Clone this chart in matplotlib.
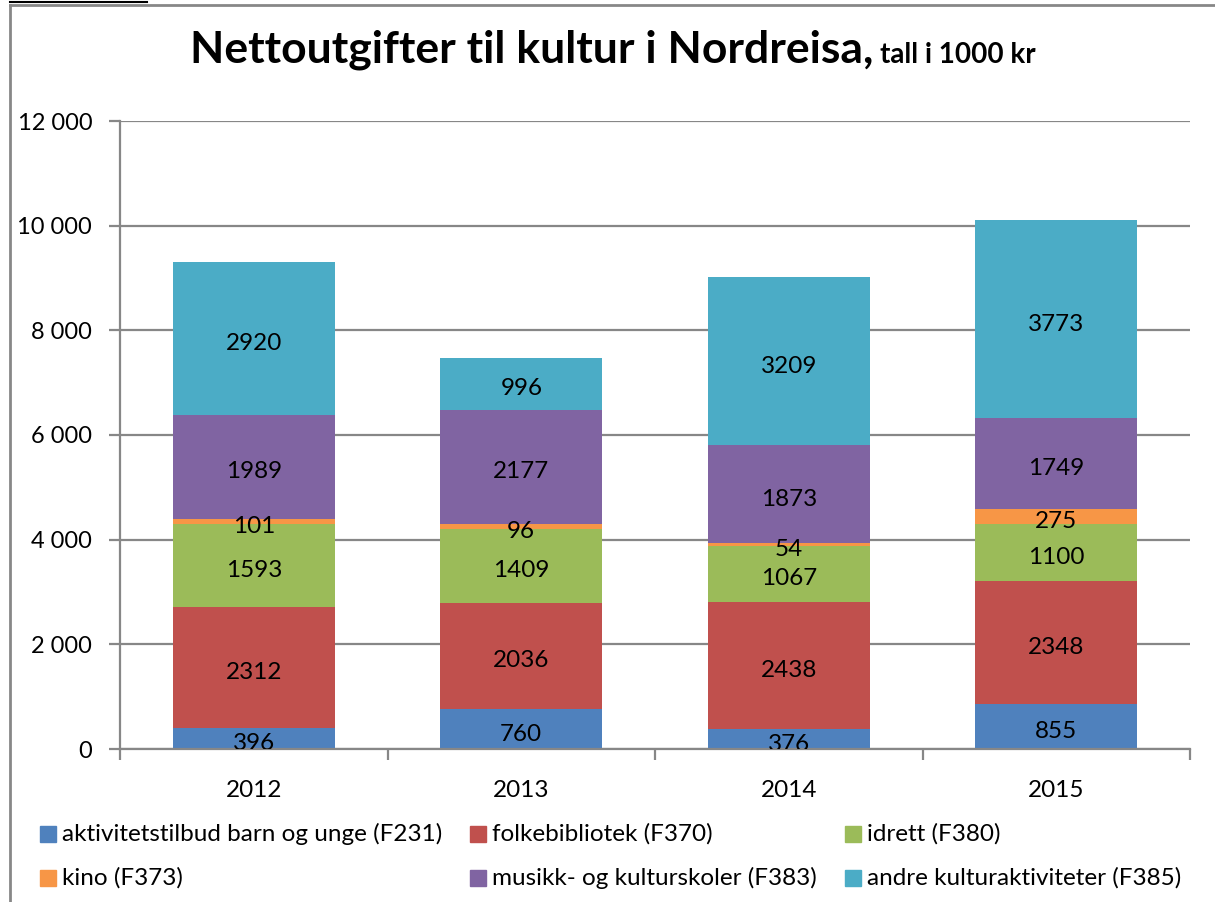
import matplotlib
matplotlib.use('Agg')
import matplotlib.pyplot as plt
import matplotlib.transforms as mtransforms
from matplotlib.lines import Line2D
from matplotlib.ticker import FuncFormatter

years = ['2012', '2013', '2014', '2015']
series_names = [
    'aktivitetstilbud barn og unge (F231)',
    'folkebibliotek (F370)',
    'idrett (F380)',
    'kino (F373)',
    'musikk- og kulturskoler (F383)',
    'andre kulturaktiviteter (F385)',
]
aktivitet = [396, 760, 376, 855]
bibliotek = [2312, 2036, 2438, 2348]
idrett = [1593, 1409, 1067, 1100]
kino = [101, 96, 54, 275]
musikk = [1989, 2177, 1873, 1749]
andre = [2920, 996, 3209, 3773]
colors = ['#4f81bd', '#c0504d', '#9bbb59', '#f79646', '#8064a2', '#4bacc6']

plt.rcParams['font.family'] = ['Lato', 'DejaVu Sans']

fig = plt.figure(figsize=(12.15, 9.02), dpi=100)
W, H = 1215, 902
ax = fig.add_axes([120 / W, 1 - 749 / H, (1190 - 120) / W, (749 - 121) / H])

# labels sit a little below the segment middle, like in Excel
label_shift = mtransforms.offset_copy(ax.transData, fig=fig, x=0, y=-5, units='dots')

values = [aktivitet, bibliotek, idrett, kino, musikk, andre]
x = list(range(len(years)))
bottom = [0] * len(years)
for name, vals, col in zip(series_names, values, colors):
    ax.bar(x, vals, 0.605, bottom=bottom, color=col, label=name, zorder=2)
    for i, v in enumerate(vals):
        t = ax.text(x[i], bottom[i] + v / 2, str(v), ha='center', va='center',
                    fontsize=17.5, color='black', zorder=3, transform=label_shift)
        t.set_clip_on(True)
    bottom = [b + v for b, v in zip(bottom, vals)]

ax.set_xlim(-0.5, 3.5)
ax.set_ylim(0, 12000)
ax.set_yticks(range(0, 12001, 2000))
ax.yaxis.set_major_formatter(FuncFormatter(lambda v, p: f'{int(v):,}'.replace(',', ' ')))
ax.yaxis.grid(True, color='#878787', linewidth=1.6, zorder=0)
ax.set_axisbelow(True)
ax.set_xticks(x)
ax.set_xticklabels(years)
ax.set_xticks([-0.5, 0.5, 1.5, 2.5, 3.5], minor=True)
ax.tick_params(axis='x', which='major', length=0, pad=22, labelsize=17.5)
ax.tick_params(axis='x', which='minor', length=8, width=1.6, color='#878787')
ax.tick_params(axis='y', length=8, width=1.6, color='#878787', labelsize=17, pad=12)
for s in ['top', 'right']:
    ax.spines[s].set_visible(False)
for s in ['left', 'bottom']:
    ax.spines[s].set_color('#878787')
    ax.spines[s].set_linewidth(1.6)

# title: main part and small suffix
fig.text(873 / W, 1 - 63 / H, 'Nettoutgifter til kultur i Nordreisa,', ha='right',
         va='baseline', fontsize=32, fontweight='bold')
fig.text(880 / W, 1 - 63 / H, 'tall i 1000 kr', ha='left', va='baseline',
         fontsize=20, fontweight='bold')

# legend in three columns, Excel row order
leg_pos = [(40, 834), (470, 834), (845, 834), (40, 878), (470, 878), (845, 878)]
for (lx, ly), name, col in zip(leg_pos, series_names, colors):
    fig.patches.append(plt.Rectangle((lx / W, 1 - (ly + 8) / H), 16 / W, 16 / H,
                                     transform=fig.transFigure, color=col))
    fig.text((lx + 22) / W, 1 - ly / H, name, ha='left', va='center', fontsize=17.5)

# chart frame
fig.add_artist(Line2D([10 / W, 10 / W], [0, 1 - 5 / H], transform=fig.transFigure,
                      color='#878787', linewidth=2))
fig.add_artist(Line2D([10 / W, 1], [1 - 5 / H, 1 - 5 / H], transform=fig.transFigure,
                      color='#878787', linewidth=2))
fig.add_artist(Line2D([10 / W, 147 / W], [1 - 2 / H, 1 - 2 / H], transform=fig.transFigure,
                      color='black', linewidth=1.5))

fig.savefig('out.png', dpi=100)
